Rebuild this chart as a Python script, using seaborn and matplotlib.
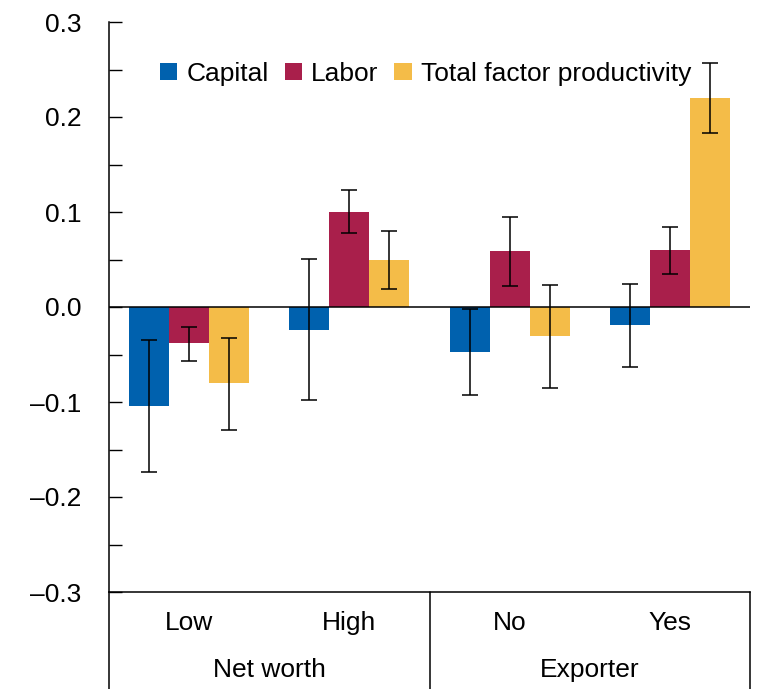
import numpy as np
import pandas as pd
import matplotlib
matplotlib.use("Agg")
import matplotlib.pyplot as plt
import seaborn as sns

# data
categories = ["Low", "High", "No", "Yes"]
groups = ["Net worth", "Exporter"]
series = ["Capital", "Labor", "Total factor productivity"]

capital = [-0.104, -0.024, -0.047, -0.019]
labor = [-0.038, 0.100, 0.059, 0.060]
tfp = [-0.080, 0.049, -0.031, 0.220]

capital_lo = [-0.1735, -0.098, -0.093, -0.063]
capital_hi = [-0.035, 0.051, -0.002, 0.024]
labor_lo = [-0.057, 0.078, 0.022, 0.035]
labor_hi = [-0.021, 0.123, 0.095, 0.084]
tfp_lo = [-0.129, 0.019, -0.085, 0.183]
tfp_hi = [-0.033, 0.080, 0.023, 0.257]

colors = ["#0061AE", "#A91F4B", "#F4BC48"]

rows = []
for s, vals, lo, hi in zip(series,
                           [capital, labor, tfp],
                           [capital_lo, labor_lo, tfp_lo],
                           [capital_hi, labor_hi, tfp_hi]):
    for c, v, l, h in zip(categories, vals, lo, hi):
        rows.append({"category": c, "series": s, "value": v, "lo": l, "hi": h})
df = pd.DataFrame(rows)

sns.set_style("white")
plt.rcParams['font.family'] = ['Liberation Sans', 'DejaVu Sans']
plt.rcParams['text.color'] = 'black'
plt.rcParams['xtick.color'] = 'black'
plt.rcParams['ytick.color'] = 'black'
plt.rcParams['axes.labelcolor'] = 'black'
FS = 19

fig = plt.figure(figsize=(7.59, 6.89), dpi=100)
ax = fig.add_axes([109 / 759, 1 - 592 / 689, (750 - 109) / 759, (592 - 22) / 689])

sns.barplot(data=df, x="category", y="value", hue="series", order=categories,
            hue_order=series, palette=colors, width=0.75, errorbar=None,
            saturation=1, linewidth=0, ax=ax)

# error bars at the centre of each drawn bar
bars = [p for p in ax.patches if p.get_width() > 0][:len(df)]
for i, s in enumerate(series):
    sub = df[df["series"] == s].set_index("category").loc[categories]
    for j, c in enumerate(categories):
        p = bars[i * len(categories) + j]
        xc = p.get_x() + p.get_width() / 2
        v = sub.loc[c, "value"]
        ax.errorbar(xc, v, yerr=[[v - sub.loc[c, "lo"]], [sub.loc[c, "hi"] - v]],
                    fmt="none", ecolor="black", elinewidth=1.1, capsize=5.5,
                    capthick=1.1, zorder=5)

ax.set_xlim(-0.5, 3.5)
ax.set_ylim(-0.3, 0.3)
ax.axhline(0, color="black", lw=1.1, zorder=4)

ax.set_yticks(np.arange(-0.3, 0.31, 0.1))
ax.set_yticks(np.arange(-0.25, 0.3, 0.1), minor=True)
ax.set_yticklabels([f"{t:.1f}".replace("-", "\u2013") for t in np.arange(-0.3, 0.31, 0.1)])
ax.tick_params(axis="y", which="both", direction="in", length=9, width=1,
               color="black", labelsize=FS, pad=20, left=True)
ax.tick_params(axis="x", length=0, labelsize=FS, pad=14)
ax.set_xlabel("")
ax.set_ylabel("")

for side in ["top", "right"]:
    ax.spines[side].set_visible(False)
for side in ["left", "bottom"]:
    ax.spines[side].set_color("black")
    ax.spines[side].set_linewidth(1.1)

# group box below the axis
tr = ax.get_xaxis_transform()
for xv in [-0.5, 1.5, 3.5]:
    ax.plot([xv, xv], [0, -0.2], transform=tr, color="black", lw=1.1, clip_on=False)
for k, g in enumerate(groups):
    ax.text(0.5 + 2 * k, -0.137, g, transform=tr, ha="center", va="center", fontsize=FS)

leg = ax.legend(loc="upper left", bbox_to_anchor=(0.08, 0.93), ncol=3, frameon=False,
                fontsize=FS, handlelength=0.65, handleheight=0.65, handletextpad=0.35,
                columnspacing=0.6, borderpad=0, borderaxespad=0)

fig.savefig("out.png", dpi=100)
